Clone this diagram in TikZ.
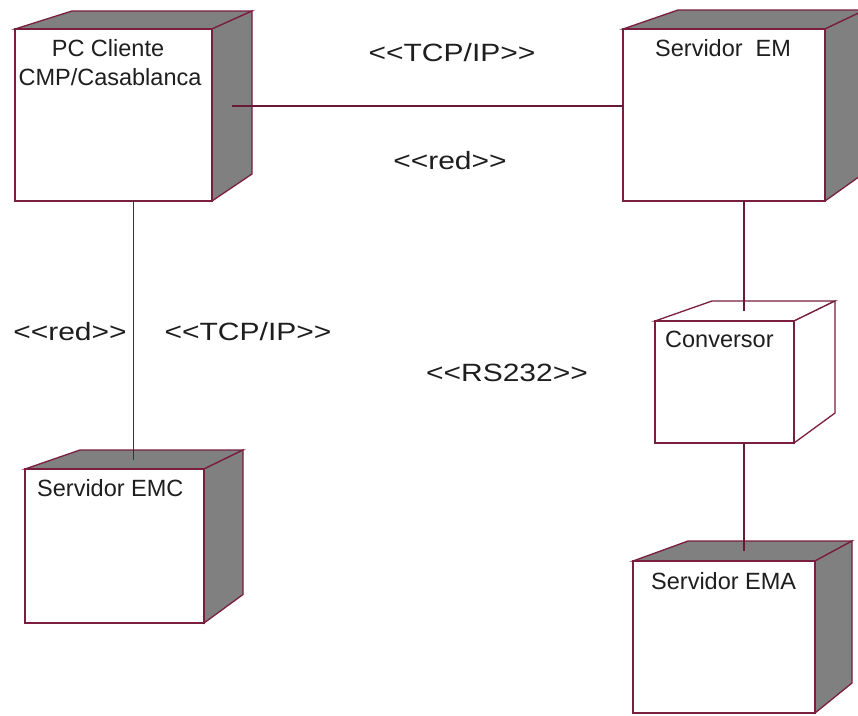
\documentclass[tikz,border=0pt]{standalone}
\usepackage{fontspec}
\setmainfont{Liberation Sans}
\newfontfamily\lblfont[FakeStretch=1.2]{Liberation Sans}
\usetikzlibrary{fit}
\definecolor{rose}{RGB}{122,30,64}
\definecolor{sidegray}{RGB}{128,128,128}
\definecolor{txt}{RGB}{30,30,30}
\newcommand{\stlt}{<\kern0pt<}
\newcommand{\stgt}{>\kern0pt>}
% #1 fill style, #2 name, #3 x1, #4 y1, #5 x2, #6 y2, #7 back-left x, #8 back-right x, #9 back-top y
\newcommand{\depbox}[9][sidegray]{%
  \filldraw[face3d, fill=#1] (#3,#4) -- (#7,#9) -- (#8,#9) -- (#5,#4) -- cycle;
  \filldraw[face3d, fill=#1] (#5,#4) -- (#8,#9) -- (#8,{#6-1.5*(#4-#9)}) -- (#5,#6) -- cycle;
  \coordinate (#2-nw) at (#3,#4);
  \coordinate (#2-se) at (#5,#6);
  \node[frontbox, fit=(#2-nw)(#2-se)] (#2) {};
  \coordinate (#2-c) at ({(#3+#8)/2},{(#9+#6)/2});
  \coordinate (#2-top) at ({(#3+#8)/2},{(#4+#9)/2});
  \coordinate (#2-side) at ({(#5+#8)/2},{(#9+#6)/2});
}
\begin{document}
\begin{tikzpicture}[x=1pt,y=-1pt,
  face3d/.style={draw=rose, line width=1.3pt, line join=miter},
  frontbox/.style={draw=rose, fill=white, line width=1.5pt, inner sep=0pt, outer sep=0pt},
  conn/.style={draw=rose!85!black, line width=1.3pt},
  ntext/.style={text=txt, inner sep=0pt, font=\fontsize{23.5}{28}\selectfont},
  lbl/.style={text=txt, inner sep=0pt, font=\lblfont\fontsize{25}{30}\selectfont}]
\useasboundingbox (0,0) rectangle (858,715);
\fill[white] (0,0) rectangle (858,715);
\clip (0,0) rectangle (858,715);

\depbox{pc}{15}{29}{212}{201}{72}{252}{11}
\depbox{em}{623}{29}{825}{201}{678}{865}{10}
\depbox[white]{conv}{655}{321}{794}{443}{712}{835}{301}
\depbox{emc}{25}{469}{204}{623}{80}{243}{450}
\depbox{ema}{633}{561}{815}{713}{688}{852}{541}

% node texts
\node[ntext] (pct1) at (108,48) {PC Cliente};
\node[ntext] (pct2) at (110,77) {CMP/Casablanca};
\node[ntext, anchor=west] (emt) at (655,48) {Servidor\ \ EM};
\node[ntext, anchor=west] (convt) at (665,339) {Conversor};
\node[ntext, anchor=west] (emct) at (37,488) {Servidor EMC};
\node[ntext, anchor=west] (emat) at (651,581) {Servidor EMA};

% connectors
\draw[conn] (pc-side) -- (em.west |- pc-side);
\draw[conn] (pc.south -| pc-c) -- (emc-top -| pc-c);
\draw[conn] (em.south -| em-c) -- (conv-top -| em-c);
\draw[conn] (conv.south -| em-c) -- (ema-top -| em-c);

% labels
\node[lbl] (l1) at (452,53) {\stlt TCP/IP\stgt};
\node[lbl] (l2) at (450,161) {\stlt red\stgt};
\node[lbl] (l3) at (70,332) {\stlt red\stgt};
\node[lbl] (l4) at (248,332) {\stlt TCP/IP\stgt};
\node[lbl] (l5) at (507,373) {\stlt RS232\stgt};
\end{tikzpicture}
\end{document}
